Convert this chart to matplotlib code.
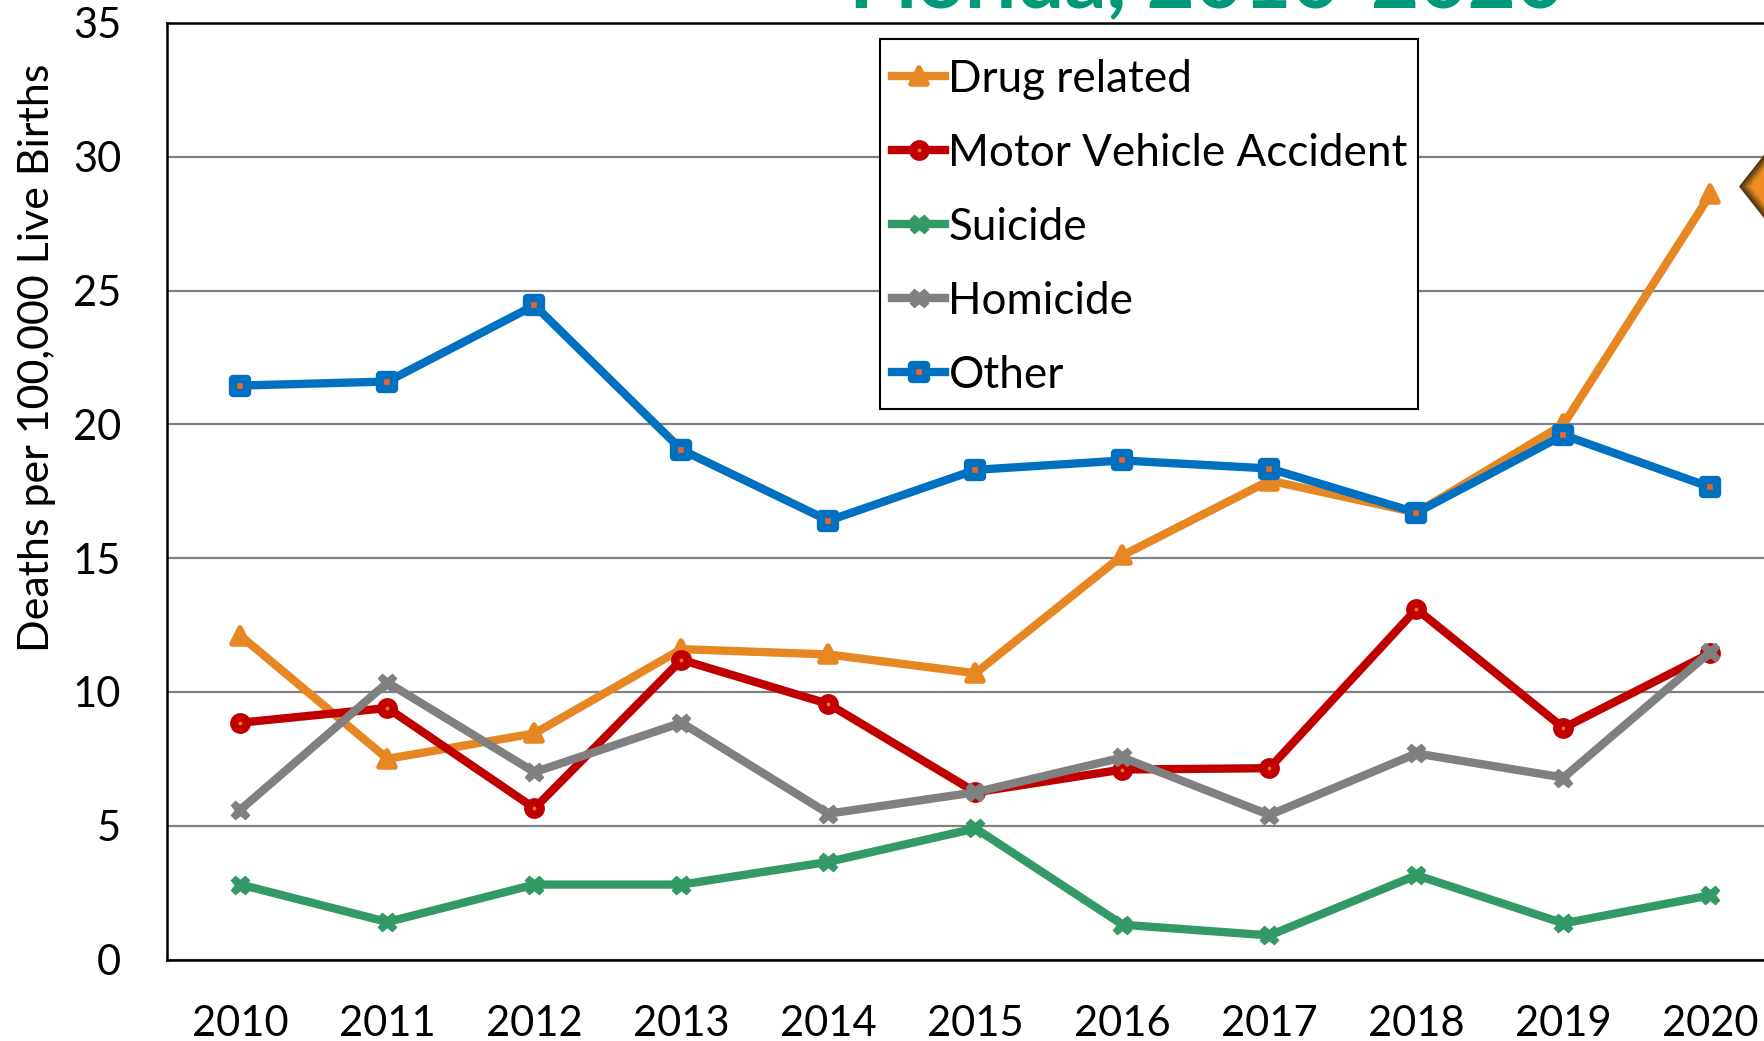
import matplotlib
matplotlib.use('Agg')
import matplotlib.pyplot as plt
from matplotlib.markers import MarkerStyle
from matplotlib.patches import Polygon, Rectangle

years = ['2010', '2011', '2012', '2013', '2014', '2015', '2016', '2017', '2018', '2019', '2020']
drug = [12.1, 7.5, 8.45, 11.6, 11.4, 10.7, 15.1, 17.9, 16.7, 20.0, 28.6]
motor = [8.85, 9.4, 5.65, 11.2, 9.55, 6.25, 7.1, 7.15, 13.1, 8.65, 11.45]
suicide = [2.8, 1.4, 2.8, 2.8, 3.65, 4.9, 1.3, 0.9, 3.15, 1.35, 2.4]
homicide = [5.6, 10.35, 7.0, 8.85, 5.45, 6.25, 7.55, 5.4, 7.7, 6.8, 11.5]
other = [21.45, 21.6, 24.45, 19.05, 16.4, 18.3, 18.65, 18.35, 16.7, 19.6, 17.65]

W, H = 1765, 1041
plt.rcParams['font.family'] = ['Lato', 'DejaVu Sans']

fig = plt.figure(figsize=(W / 100, H / 100), dpi=100)
# axes runs off the right side of the picture, like the cropped slide
left, right, top, bottom = 167, 1784, 23, 959.5
ax = fig.add_axes([left / W, 1 - bottom / H, (right - left) / W, (bottom - top) / H])
x = list(range(len(years)))

tri = MarkerStyle('^', joinstyle='round')
dot = MarkerStyle('o', joinstyle='round')
box = MarkerStyle('s', joinstyle='round')

ax.plot(x, drug, color='#E78723', lw=6, marker=tri, ms=12, mfc='#E78723', mec='#E78723', mew=4, label='Drug related', clip_on=False, zorder=3)
ax.plot(x, motor, color='#C00000', lw=6, marker=dot, ms=9, mfc='#F07800', mec='#C00000', mew=6, label='Motor Vehicle Accident', clip_on=False, zorder=4)
ax.plot(x, suicide, color='#339966', lw=6, marker='X', ms=13, mfc='#339966', mec='#339966', mew=1, label='Suicide', clip_on=False, zorder=3)
ax.plot(x, homicide, color='#808080', lw=6, marker='X', ms=13, mfc='#808080', mec='#808080', mew=1, label='Homicide', clip_on=False, zorder=5)
ax.plot(x, other, color='#0070C0', lw=6, marker=box, ms=10, mfc='#F0642A', mec='#0070C0', mew=6, label='Other', clip_on=False, zorder=6)

ax.set_xlim(-0.5, 10.5)
ax.set_ylim(0, 35)
ax.set_xticks(x)
ax.set_xticklabels(years)
ax.set_yticks(range(0, 40, 5))
ax.tick_params(length=0, labelsize=30, pad=33)
ax.tick_params(axis='x', pad=33)
ax.grid(axis='y', color='#808080', lw=1.6)
ax.set_axisbelow(True)
for s in ['top', 'left', 'bottom']:
    ax.spines[s].set_linewidth(1.8)
    ax.spines[s].set_color('black')
ax.set_ylabel('Deaths per 100,000 Live Births', fontsize=31, va='center')
ax.yaxis.set_label_coords((37 - left) / (right - left), 0.643)

# legend frame drawn by hand so the padding can differ across and down
ax.add_patch(Rectangle((880 / W, 1 - 409 / H), 538 / W, 370 / H, transform=fig.transFigure,
                       facecolor='white', edgecolor='black', lw=1.5, clip_on=False, zorder=9))
leg = ax.legend(loc='upper left', bbox_to_anchor=((892.5 - left) / (right - left), 1 - (58.5 - top) / (bottom - top)),
                fontsize=31.7, frameon=False, handlelength=1.19, handletextpad=0.08,
                labelspacing=0.75, borderpad=0, borderaxespad=0)
leg.set_zorder(10)

# title cut off by the top of the slide
fig.text(1207 / W, 1 - 7 / H, 'Florida, 2010-2020', color='#009977', fontsize=60, fontweight='bold', ha='center', va='baseline')

# bevelled arrow tip at the right edge
steps = [(0, '#5A3A15'), (3, '#7C4F18'), (6, '#A96C1C'), (9, '#D2831F'), (12, '#F28C22')]
for d, col in steps:
    h = (26 - d) * 33 / 26
    fig.add_artist(Polygon([((1739 + d) / W, 1 - 186.5 / H), (1765 / W, 1 - (186.5 - h) / H), (1765 / W, 1 - (186.5 + h) / H)],
                           transform=fig.transFigure, facecolor=col, edgecolor='none'))

fig.savefig('out.png', dpi=100)
